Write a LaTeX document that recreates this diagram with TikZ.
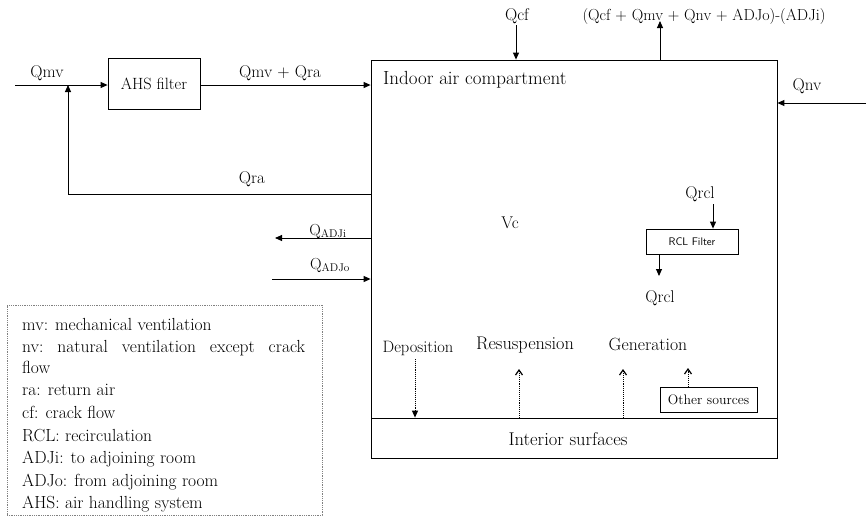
\documentclass[tikz,border=0pt]{standalone}
\usetikzlibrary{arrows.meta,positioning}
\begin{document}
\begin{tikzpicture}[x=1pt,y=-1pt,
  lbl/.style={inner sep=0pt,anchor=base,font=\fontsize{17}{20}\selectfont},
  leg/.style={inner sep=0pt,anchor=base west,font=\fontsize{17.5}{20}\selectfont},
  boxn/.style={draw,line width=0.8pt,inner sep=0pt},
  flow/.style={line width=0.9pt,-{Triangle[length=7pt,width=6pt]}},
  dep/.style={line width=0.9pt,densely dotted,-{Triangle[length=7pt,width=6pt]}},
  src/.style={line width=0.9pt,densely dotted,-{Straight Barb[length=5pt,width=7pt,line width=1.2pt]}}]
\useasboundingbox (0,0) rectangle (867,525);

% main compartment
\node[boxn,minimum width=406pt,minimum height=398pt] (room) at (574,259) {};
\node[boxn,minimum width=406pt,minimum height=40pt] (surf) at (574,438) {};
\node[lbl,font=\fontsize{18.5}{20}\selectfont] (surft) at (568,445) {Interior surfaces};
\node[lbl,anchor=base west,font=\fontsize{19}{20}\selectfont] (iac) at (383,84.5) {Indoor air compartment};
\node[lbl] (vc) at (510,228) {Vc};

% AHS filter
\node[boxn,minimum width=92pt,minimum height=51pt] (ahs) at (154,83.5) {};
\node[lbl,anchor=center,font=\fontsize{16.3}{18}\selectfont] at (ahs.center) {AHS filter};

\coordinate (mvin) at (15,85);
\coordinate (mvj) at (68,85);
\draw[line width=0.9pt] (mvin) -- (mvj);
\draw[flow] (mvj) -- (ahs.west |- mvj);
\node[lbl] (qmv) at (47,77) {Qmv};

\coordinate (roomin) at (room.west |- mvj);
\draw[flow] (ahs.east |- mvj) -- (roomin);
\node[lbl] (qmvra) at (280,77) {Qmv + Qra};

% return air
\coordinate (raout) at (room.west |- 0,194);
\coordinate (racorner) at (68,194);
\draw[flow] (raout) -- (racorner) -- (mvj);
\node[lbl] (qra) at (252,183) {Qra};

% crack flow
\node[lbl] (qcf) at (517,20) {Qcf};
\coordinate (cftop) at (516,25);
\draw[flow] (cftop) -- (room.north -| cftop);

% outflow
\coordinate (outt) at (660,21);
\draw[flow] (room.north -| outt) -- (outt);
\node[lbl,font=\fontsize{16}{18}\selectfont] (outl) at (704,20) {(Qcf + Qmv + Qnv + ADJo)-(ADJi)};

% natural ventilation
\coordinate (nvout) at (866,103);
\draw[flow] (nvout) -- (room.east |- nvout);
\node[lbl] (qnv) at (807,90) {Qnv};

% adjoining room
\coordinate (adjiend) at (275,238);
\draw[flow] (room.west |- adjiend) -- (adjiend);
\node[lbl,font=\fontsize{16}{18}\selectfont] (qadji) at (328,235) {Q\textsubscript{ADJi}};
\coordinate (adjostart) at (272,279);
\draw[flow] (adjostart) -- (room.west |- adjostart);
\node[lbl,font=\fontsize{16}{18}\selectfont] (qadjo) at (330,269) {Q\textsubscript{ADJo}};

% recirculation
\node[draw,line width=0.8pt,minimum width=92pt,minimum height=25pt,inner sep=0pt,
  font=\sffamily\fontsize{11}{13}\selectfont] (rcl) at (692,241.5) {RCL Filter};
\node[lbl] (qrcl1) at (700,198) {Qrcl};
\coordinate (rclin) at (713,204);
\draw[flow] (rclin) -- (rcl.north -| rclin);
\coordinate (rclout) at (659,276);
\draw[flow] (rcl.south -| rclout) -- (rclout);
\node[lbl] (qrcl2) at (660,302) {Qrcl};

% deposition / resuspension / generation
\node[lbl,font=\fontsize{16.5}{18}\selectfont] (depo) at (418,352) {Deposition};
\node[lbl,font=\fontsize{18.3}{20}\selectfont] (resus) at (525,349) {Resuspension};
\node[lbl,font=\fontsize{17.7}{20}\selectfont] (gen) at (648,350) {Generation};
\node[draw,line width=0.8pt,minimum width=97pt,minimum height=25pt,inner sep=0pt,
  font=\fontsize{13.8}{15}\selectfont] (other) at (708.5,399.5) {Other sources};

\coordinate (dtop) at (415,359);
\draw[dep] (dtop) -- (surf.north -| dtop);
\coordinate (rtop) at (519,369);
\draw[src] (surf.north -| rtop) -- (rtop);
\coordinate (gtop) at (623,369);
\draw[src] (surf.north -| gtop) -- (gtop);
\coordinate (otop) at (688,368);
\draw[src] (other.north -| otop) -- (otop);

% legend
\node[draw=gray,densely dotted,line width=0.8pt,minimum width=315pt,minimum height=210pt,inner sep=0pt] (legend) at (164.5,410) {};
\node[leg] at (22,330) {mv: mechanical ventilation};
\node[leg,text width=283pt] at (22,352) {nv:\hfill natural\hfill ventilation\hfill except\hfill crack};
\node[leg] at (22,373) {flow};
\node[leg] at (22,395) {ra: return air};
\node[leg] at (22,418) {cf: crack flow};
\node[leg] at (22,441) {RCL: recirculation};
\node[leg] at (22,463) {ADJi: to adjoining room};
\node[leg] at (22,486) {ADJo: from adjoining room};
\node[leg] at (22,508) {AHS: air handling system};
\end{tikzpicture}
\end{document}
